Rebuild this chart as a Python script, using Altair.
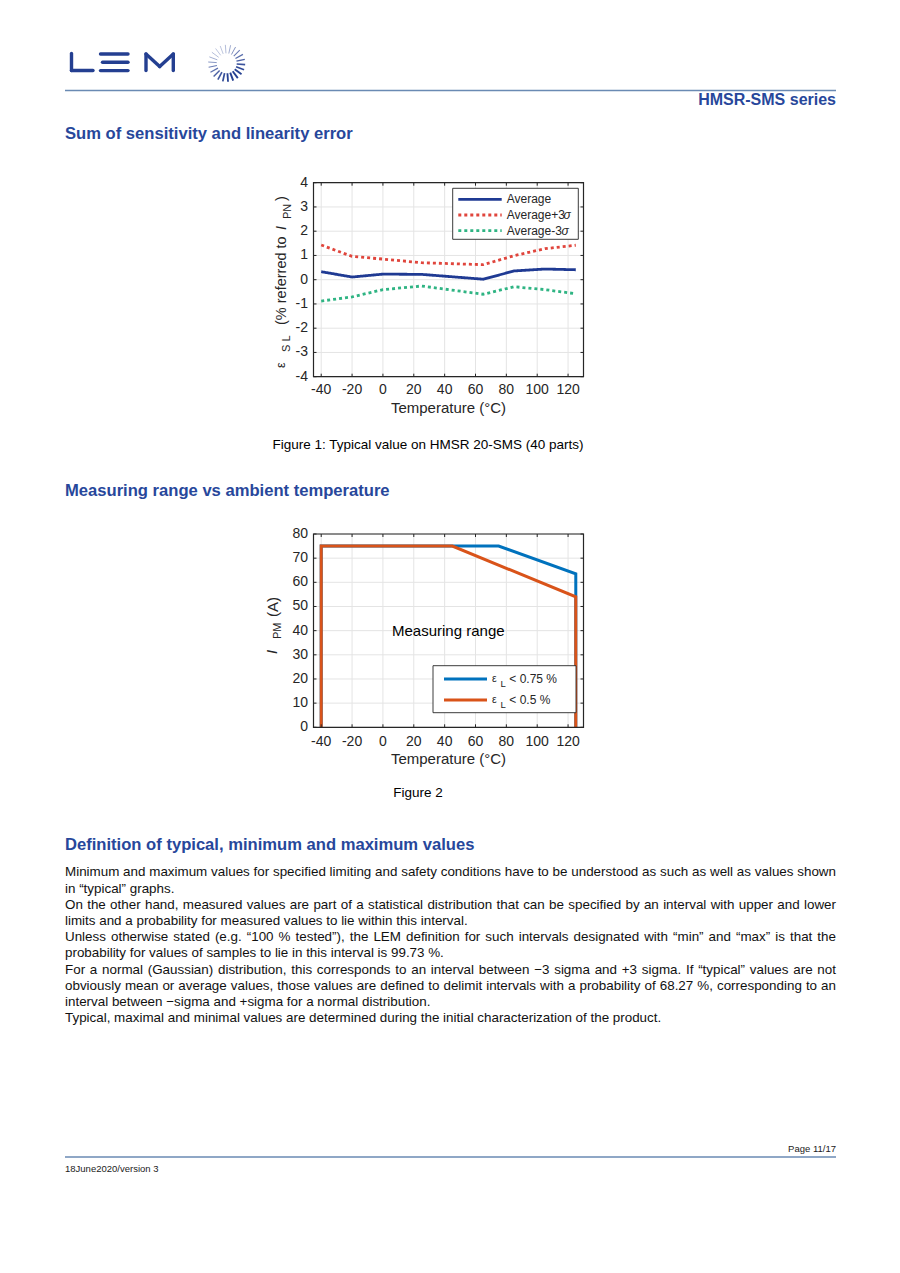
import math
import altair as alt
import pandas as pd

# ---------------- data ----------------
TEMP1 = [-40, -20, 0, 25, 65, 85, 105, 125]
AVERAGE = [0.33, 0.11, 0.23, 0.22, 0.02, 0.36, 0.44, 0.41]
AVG_PLUS_3S = [1.43, 0.96, 0.85, 0.70, 0.62, 0.99, 1.28, 1.42]
AVG_MINUS_3S = [-0.88, -0.71, -0.41, -0.26, -0.60, -0.29, -0.41, -0.58]
SERIES1 = ["Average", "Average+3σ", "Average-3σ"]

BLUE_T = [-40, -40, 75, 125, 125]
BLUE_I = [0, 75, 75, 63.5, 0]
ORANGE_T = [-40, -40, 45, 125, 125]
ORANGE_I = [0, 75, 75, 54, 0]

X_TICKS = [-40, -20, 0, 20, 40, 60, 80, 100, 120]
X_TICK_LABELS = ["-40", "-20", "0", "20", "40", "60", "80", "100", "120"]
Y1_TICKS = [-4, -3, -2, -1, 0, 1, 2, 3, 4]
Y1_TICK_LABELS = ["-4", "-3", "-2", "-1", "0", "1", "2", "3", "4"]
Y2_TICKS = [0, 10, 20, 30, 40, 50, 60, 70, 80]
Y2_TICK_LABELS = ["0", "10", "20", "30", "40", "50", "60", "70", "80"]
X_DOMAIN = [-45, 130]
Y1_DOMAIN = [-4, 4]
Y2_DOMAIN = [0, 80]

PARAGRAPH = [
    "Minimum and maximum values for specified limiting and safety conditions have to be understood as such as well as values shown",
    "in \u201ctypical\u201d graphs.",
    "On the other hand, measured values are part of a statistical distribution that can be specified by an interval with upper and lower",
    "limits and a probability for measured values to lie within this interval.",
    "Unless otherwise stated (e.g. \u201c100 % tested\u201d), the LEM definition for such intervals designated with \u201cmin\u201d and \u201cmax\u201d is that the",
    "probability for values of samples to lie in this interval is 99.73 %.",
    "For a normal (Gaussian) distribution, this corresponds to an interval between \u22123 sigma and +3 sigma. If \u201ctypical\u201d values are not",
    "obviously mean or average values, those values are defined to delimit intervals with a probability of 68.27 %, corresponding to an",
    "interval between \u2212sigma and +sigma for a normal distribution.",
    "Typical, maximal and minimal values are determined during the initial characterization of the product.",
]
JUSTIFIED = [True, False, True, False, True, False, True, True, False, False]

# ---------------- style ----------------
OFF = 8
FONT = "Liberation Sans"
INK = "#262626"
HEAD = "#27479b"
LOGO = "#243f91"
RULE_BLUE = "#6a8ab3"
GRID = "#e4e4e4"
C_AVG = "#1f3a93"
C_PLUS = "#e0453c"
C_MINUS = "#2fb483"
C_BLUE = "#0072bd"
C_ORANGE = "#d95319"

# Arial / Liberation Sans advance widths (1/1000 em) for text layout
_W = {" ": 278, "a": 556, "b": 556, "c": 500, "d": 556, "e": 556, "f": 278, "g": 556,
      "h": 556, "i": 222, "j": 222, "k": 500, "l": 222, "m": 833, "n": 556, "o": 556,
      "p": 556, "q": 556, "r": 333, "s": 500, "t": 278, "u": 556, "v": 500, "w": 722,
      "x": 500, "y": 500, "z": 500, "A": 667, "B": 667, "C": 722, "D": 722, "E": 667,
      "F": 611, "G": 778, "H": 722, "I": 278, "J": 500, "K": 667, "L": 556, "M": 833,
      "N": 722, "O": 778, "P": 667, "Q": 778, "R": 722, "S": 667, "T": 611, "U": 722,
      "V": 667, "W": 944, "X": 667, "Y": 667, "Z": 611, ".": 278, ",": 278, "(": 333,
      ")": 333, "%": 889, "\u201c": 333, "\u201d": 333, "\u2212": 584, "+": 584, "-": 333,
      ":": 278, "/": 278}
for _d in "0123456789":
    _W[_d] = 556


def text_width(s, size):
    return sum(_W.get(ch, 556) for ch in s) * size / 1000.0


def P(v):
    return v - OFF


def one():
    return pd.DataFrame({"a": [0]})


def txt(s, x, y, size, color=INK, align="left", baseline="middle",
        weight="normal", style="normal", angle=None):
    kw = dict(font=FONT, fontSize=size, color=color, align=align,
              baseline=baseline, fontWeight=weight, fontStyle=style)
    if angle is not None:
        kw["angle"] = angle
    return alt.Chart(pd.DataFrame({"t": [s]})).mark_text(**kw).encode(
        x=alt.value(P(x)), y=alt.value(P(y)), text="t:N")


def rule(x1, y1, x2, y2, color, width, dash=None, cap="butt"):
    kw = dict(color=color, strokeWidth=width, strokeCap=cap)
    if dash:
        kw["strokeDash"] = dash
    return alt.Chart(one()).mark_rule(**kw).encode(
        x=alt.value(P(x1)), y=alt.value(P(y1)),
        x2=alt.value(P(x2)), y2=alt.value(P(y2)))


def box(l, r, t, b, stroke, width, fill="white", fop=1.0):
    return alt.Chart(one()).mark_rect(
        fill=fill, fillOpacity=fop, stroke=stroke, strokeWidth=width).encode(
        x=alt.value(P(l)), x2=alt.value(P(r)),
        y=alt.value(P(t)), y2=alt.value(P(b)))


layers = []

# ---------------- header ----------------
logo_segs = [
    (71.5, 53.5, 71.5, 70.5), (71.5, 70.5, 93.0, 70.5),
    (100.5, 54.0, 128.0, 54.0), (102.5, 62.3, 128.0, 62.3), (100.5, 70.6, 128.0, 70.6),
    (146.0, 54.0, 146.0, 70.5), (146.0, 54.0, 159.7, 66.5),
    (159.7, 66.5, 173.3, 54.0), (173.3, 54.0, 173.3, 70.5),
]
for (a, b, c, d) in logo_segs:
    layers.append(rule(a, b, c, d, LOGO, 3.4, cap="round"))

cx, cy = 226.7, 63.3
rays = []
for k in range(22):
    th = math.radians(k * 360 / 22 + 4)
    f = (1 + math.cos(th - math.radians(60))) / 2
    rays.append(dict(x=P(cx + 10 * math.cos(th)), y=P(cy + 10 * math.sin(th)),
                     x2=P(cx + 18.5 * math.cos(th)), y2=P(cy + 18.5 * math.sin(th)),
                     w=0.6 + 1.3 * f, op=0.5 + 0.5 * f))
layers.append(alt.Chart(pd.DataFrame(rays)).mark_rule(color=LOGO, strokeCap="butt").encode(
    x=alt.X("x:Q", scale=None, axis=None), y=alt.Y("y:Q", scale=None, axis=None),
    x2="x2:Q", y2="y2:Q",
    strokeWidth=alt.StrokeWidth("w:Q", scale=None, legend=None),
    opacity=alt.Opacity("op:Q", scale=None, legend=None)))

layers.append(rule(65, 90.5, 836, 90.5, RULE_BLUE, 1.5))
layers.append(txt("HMSR-SMS series", 836, 100, 16, HEAD, align="right", weight="bold"))
layers.append(txt("Sum of sensitivity and linearity error", 65, 134, 16.6, HEAD, weight="bold"))
layers.append(txt("Figure 1: Typical value on HMSR 20-SMS (40 parts)", 428, 445, 13.5, "#000000", align="center"))
layers.append(txt("Measuring range vs ambient temperature", 65, 491, 16.6, HEAD, weight="bold"))
layers.append(txt("Figure 2", 418, 793, 13.5, "#000000", align="center"))
layers.append(txt("Definition of typical, minimum and maximum values", 65, 845, 16.6, HEAD, weight="bold"))

# paragraph (justified lines laid out word by word)
PSIZE = 13.4
LEFT, RIGHT = 65.0, 836.0
words = []
for i, (line, just) in enumerate(zip(PARAGRAPH, JUSTIFIED)):
    yy = P(872.3 + 16.2 * i)
    if not just:
        words.append(dict(w=line, x=P(LEFT), y=yy))
        continue
    ws = line.split(" ")
    natural = sum(text_width(w, PSIZE) for w in ws)
    gap = (RIGHT - LEFT - natural) / (len(ws) - 1)
    xx = LEFT
    for w in ws:
        words.append(dict(w=w, x=P(xx), y=yy))
        xx += text_width(w, PSIZE) + gap
layers.append(alt.Chart(pd.DataFrame(words)).mark_text(
    font=FONT, fontSize=PSIZE, color="#111111", align="left", baseline="middle").encode(
    x=alt.X("x:Q", scale=None, axis=None), y=alt.Y("y:Q", scale=None, axis=None), text="w:N"))

layers.append(txt("Page 11/17", 836, 1149, 9.5, "#222222", align="right"))
layers.append(rule(65, 1157, 836, 1157, RULE_BLUE, 1.5))
layers.append(txt("18June2020/version 3", 65, 1169, 9.5, "#222222"))

# ---------------- plot helpers ----------------
L, R = 313.5, 583.5
xs = alt.Scale(domain=X_DOMAIN, range=[P(L), P(R)], nice=False, zero=False)


def plot_grid(ys, yticks, ylabels, top, bot):
    parts = []
    xt = pd.DataFrame({"t": X_TICKS, "lab": X_TICK_LABELS})
    yt = pd.DataFrame({"v": yticks, "lab": ylabels})
    parts.append(alt.Chart(xt).mark_rule(color=GRID, strokeWidth=1).encode(
        x=alt.X("t:Q", scale=xs, axis=None), y=alt.value(P(top)), y2=alt.value(P(bot))))
    parts.append(alt.Chart(yt).mark_rule(color=GRID, strokeWidth=1).encode(
        y=alt.Y("v:Q", scale=ys, axis=None), x=alt.value(P(L)), x2=alt.value(P(R))))
    return parts, xt, yt


def plot_decor(ys, xt, yt, top, bot, lab_y, title_y):
    parts = []
    parts.append(box(L, R, top, bot, INK, 1.2, fill="white", fop=0))
    for (ya, yb) in [(bot, bot - 3), (top, top + 3)]:
        parts.append(alt.Chart(xt).mark_rule(color=INK, strokeWidth=1).encode(
            x=alt.X("t:Q", scale=xs, axis=None), y=alt.value(P(ya)), y2=alt.value(P(yb))))
    for (xa, xb) in [(L, L + 3), (R, R - 3)]:
        parts.append(alt.Chart(yt).mark_rule(color=INK, strokeWidth=1).encode(
            y=alt.Y("v:Q", scale=ys, axis=None), x=alt.value(P(xa)), x2=alt.value(P(xb))))
    parts.append(alt.Chart(xt).mark_text(font=FONT, fontSize=14, color=INK, align="center",
                                         baseline="middle").encode(
        x=alt.X("t:Q", scale=xs, axis=None), y=alt.value(P(lab_y)), text="lab:N"))
    parts.append(alt.Chart(yt).mark_text(font=FONT, fontSize=14, color=INK, align="right",
                                         baseline="middle").encode(
        y=alt.Y("v:Q", scale=ys, axis=None), x=alt.value(P(308)), text="lab:N"))
    parts.append(txt("Temperature (°C)", (L + R) / 2, title_y, 15, INK, align="center"))
    return parts


# ---------------- chart 1 ----------------
T1, B1 = 182.7, 376.7
ys1 = alt.Scale(domain=Y1_DOMAIN, range=[P(B1), P(T1)], nice=False, zero=False)
g1, xt1, yt1 = plot_grid(ys1, Y1_TICKS, Y1_TICK_LABELS, T1, B1)
df1 = pd.DataFrame({
    "T": TEMP1 * 3,
    "E": AVERAGE + AVG_PLUS_3S + AVG_MINUS_3S,
    "S": [SERIES1[0]] * len(TEMP1) + [SERIES1[1]] * len(TEMP1) + [SERIES1[2]] * len(TEMP1),
})
lines1 = alt.Chart(df1).mark_line(strokeWidth=2.8, strokeCap="butt").encode(
    x=alt.X("T:Q", scale=xs, axis=None),
    y=alt.Y("E:Q", scale=ys1, axis=None),
    color=alt.Color("S:N", scale=alt.Scale(domain=SERIES1, range=[C_AVG, C_PLUS, C_MINUS]), legend=None),
    strokeDash=alt.StrokeDash("S:N", scale=alt.Scale(domain=SERIES1, range=[[1, 0], [3, 3], [3, 3]]), legend=None),
    detail="S:N",
)
d1 = plot_decor(ys1, xt1, yt1, T1, B1, 390, 408)
chart1 = alt.layer(*g1, lines1, *d1)

layers_after = []
# chart1 y title (rotated, with subscripts)
layers_after.append(txt("\u03b5", 281, 368, 12.5, INK, angle=270))
layers_after.append(txt("S L", 287, 352, 11, INK, angle=270))
layers_after.append(txt("(% referred to", 282, 325, 14.5, INK, angle=270))
layers_after.append(txt("I", 282, 230, 14.5, INK, style="italic", angle=270))
layers_after.append(txt("PN", 287.5, 219, 11, INK, angle=270))
layers_after.append(txt(")", 282, 201, 14.5, INK, angle=270))

# chart1 legend
layers_after.append(box(452.7, 578.3, 188.3, 239.3, INK, 0.9))
leg_rows = [199.3, 215.0, 230.7]
layers_after.append(rule(458.3, leg_rows[0], 501.7, leg_rows[0], C_AVG, 2.8))
layers_after.append(rule(458.3, leg_rows[1], 501.7, leg_rows[1], C_PLUS, 2.8, dash=[3, 3]))
layers_after.append(rule(458.3, leg_rows[2], 501.7, leg_rows[2], C_MINUS, 2.8, dash=[3, 3]))
layers_after.append(txt("Average", 506.7, leg_rows[0], 12))
layers_after.append(txt("Average+3", 506.7, leg_rows[1], 12))
layers_after.append(txt("\u03c3", 563.5, leg_rows[1], 12, style="italic"))
layers_after.append(txt("Average-3", 506.7, leg_rows[2], 12))
layers_after.append(txt("\u03c3", 561.5, leg_rows[2], 12, style="italic"))

# ---------------- chart 2 ----------------
T2, B2 = 534.0, 727.3
ys2 = alt.Scale(domain=Y2_DOMAIN, range=[P(B2), P(T2)], nice=False, zero=False)
g2, xt2, yt2 = plot_grid(ys2, Y2_TICKS, Y2_TICK_LABELS, T2, B2)
blue = pd.DataFrame({"T": BLUE_T, "I": BLUE_I, "o": list(range(len(BLUE_T)))})
orange = pd.DataFrame({"T": ORANGE_T, "I": ORANGE_I, "o": list(range(len(ORANGE_T)))})
lb = alt.Chart(blue).mark_line(color=C_BLUE, strokeWidth=3, strokeJoin="miter").encode(
    x=alt.X("T:Q", scale=xs, axis=None), y=alt.Y("I:Q", scale=ys2, axis=None), order="o:Q")
lo = alt.Chart(orange).mark_line(color=C_ORANGE, strokeWidth=3, strokeJoin="miter").encode(
    x=alt.X("T:Q", scale=xs, axis=None), y=alt.Y("I:Q", scale=ys2, axis=None), order="o:Q")
d2 = plot_decor(ys2, xt2, yt2, T2, B2, 741.7, 759.3)
chart2 = alt.layer(*g2, lb, lo, *d2)

layers_after.append(txt("Measuring range", 448.3, 631, 15, "#000000", align="center"))
layers_after.append(txt("I", 272, 654, 15, INK, style="italic", angle=270))
layers_after.append(txt("PM", 277.5, 639, 11, INK, angle=270))
layers_after.append(txt("(A)", 272.5, 617, 15, INK, angle=270))

layers_after.append(box(433, 576, 665.7, 712.7, INK, 0.9))
leg2 = [679.0, 700.0]
layers_after.append(rule(444, leg2[0], 487, leg2[0], C_BLUE, 3))
layers_after.append(rule(444, leg2[1], 487, leg2[1], C_ORANGE, 3))
for yy, s in zip(leg2, ["< 0.75 %", "< 0.5 %"]):
    layers_after.append(txt("\u03b5", 492, yy - 0.5, 10.5))
    layers_after.append(txt("L", 500.5, yy + 5, 9.5))
    layers_after.append(txt(s, 509.3, yy, 12))

# white page edges (hide any view outline)
layers_after.append(rule(8, 8, 892, 8, "white", 3))
layers_after.append(rule(8, 8, 8, 1265, "white", 3))
layers_after.append(rule(892, 8, 892, 1265, "white", 3))
layers_after.append(rule(8, 1265, 892, 1265, "white", 3))

page = alt.layer(*layers, chart1, chart2, *layers_after).resolve_scale(
    x="independent", y="independent"
).properties(
    width=884, height=1257, padding=0,
    autosize=alt.AutoSizeParams(type="none"),
).configure_view(stroke="transparent", strokeOpacity=0).configure(background="white")

page.save("out.html", embed_options={"renderer": "svg", "actions": False})
